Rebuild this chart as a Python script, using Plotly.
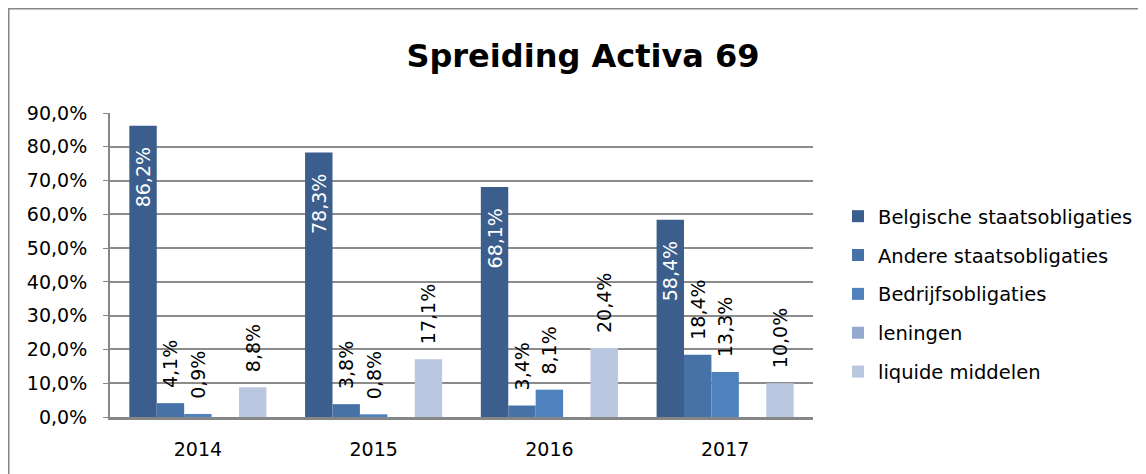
import plotly.graph_objects as go

years = ["2014", "2015", "2016", "2017"]
series_names = ["Belgische staatsobligaties", "Andere staatsobligaties",
                "Bedrijfsobligaties", "leningen", "liquide middelen"]
belgische = [86.2, 78.3, 68.1, 58.4]
andere = [4.1, 3.8, 3.4, 18.4]
bedrijf = [0.9, 0.8, 8.1, 13.3]
leningen = [0, 0, 0, 0]
liquide = [8.8, 17.1, 20.4, 10.0]
y_ticks = [0, 10, 20, 30, 40, 50, 60, 70, 80, 90]
y_ticktext = [f"{v:.1f}%".replace(".", ",") for v in y_ticks]

colors = ["#3B5E8C", "#4672A8", "#4F81BD", "#95A8D0", "#B9C7E1"]
values = [belgische, andere, bedrijf, leningen, liquide]

FONT = "DejaVu Sans"
NB = "\u00a0"

# page has an 8px body margin; work in page pixels, convert to figure pixels
OFF = 8
PW, PH = 1146, 474
W, H = PW - OFF, PH - OFF

# plot area in page pixels
PX0, PX1, PY0, PY1 = 110, 813, 113, 417
L, R = PX0 - OFF, PW - PX1
T, B = PY0 - OFF, PH - PY1
pw, ph = PX1 - PX0, PY1 - PY0


def xp(x):  # page x -> paper
    return (x - PX0) / pw


def yp(y):  # page y -> paper
    return (PY1 - y) / ph


fig = go.Figure()
for i, (name, vals, col) in enumerate(zip(series_names, values, colors)):
    if i == 0:
        tt = "%{y:.1f}%" + NB * 3
        pos = "inside"
    elif name == "leningen":
        tt = ""
        pos = "none"
    else:
        tt = NB * 2 + "%{y:.1f}%"
        pos = "outside"
    fig.add_trace(go.Bar(
        x=years, y=vals, name=name,
        marker=dict(color=col, line=dict(width=0)),
        texttemplate=tt, textposition=pos, textangle=-90,
        insidetextanchor="end", constraintext="none",
        insidetextfont=dict(color="white", size=19, family=FONT),
        outsidetextfont=dict(color="black", size=19, family=FONT),
        cliponaxis=False,
        legendgroup=name,
    ))

fig.update_layout(
    width=W, height=H,
    margin=dict(l=L, r=R, t=T, b=B, autoexpand=False),
    paper_bgcolor="white", plot_bgcolor="white",
    separators=",.",
    font=dict(family=FONT, size=19, color="black"),
    barmode="group", bargap=0.22, bargroupgap=0,
    title=dict(text="Spreiding Activa 69",
               font=dict(family=FONT, size=32, color="black", weight="bold"),
               x=xp(583), xref="paper", xanchor="center",
               y=1 - (56 - OFF) / H, yref="container", yanchor="middle"),
    legend=dict(x=xp(838), xanchor="left", y=yp(294), yanchor="middle",
                font=dict(family=FONT, size=19.5, color="black"),
                tracegroupgap=10.5, bgcolor="rgba(0,0,0,0)"),
    xaxis=dict(type="category", showline=True, linecolor="#868686", linewidth=3,
               ticks="", ticklabelstandoff=13, showgrid=False, automargin=False,
               tickfont=dict(family=FONT, size=19)),
    yaxis=dict(range=[0, 90], tickvals=y_ticks, ticktext=y_ticktext,
               showgrid=True, gridcolor="#8c8c8c", gridwidth=1.5,
               showline=True, linecolor="#868686", linewidth=2,
               ticks="outside", ticklen=5, tickcolor="#868686",
               ticklabelstandoff=12, zeroline=False, automargin=False,
               tickfont=dict(family=FONT, size=19)),
    showlegend=True,
)

bx, by = xp(8), yp(8)
fig.add_shape(type="line", xref="paper", yref="paper", x0=bx, x1=xp(PW + 5),
              y0=by, y1=by, line=dict(color="#868686", width=3))
fig.add_shape(type="line", xref="paper", yref="paper", x0=bx, x1=bx,
              y0=by, y1=yp(PH + 5), line=dict(color="#868686", width=3))

fig.write_html("out.html")
